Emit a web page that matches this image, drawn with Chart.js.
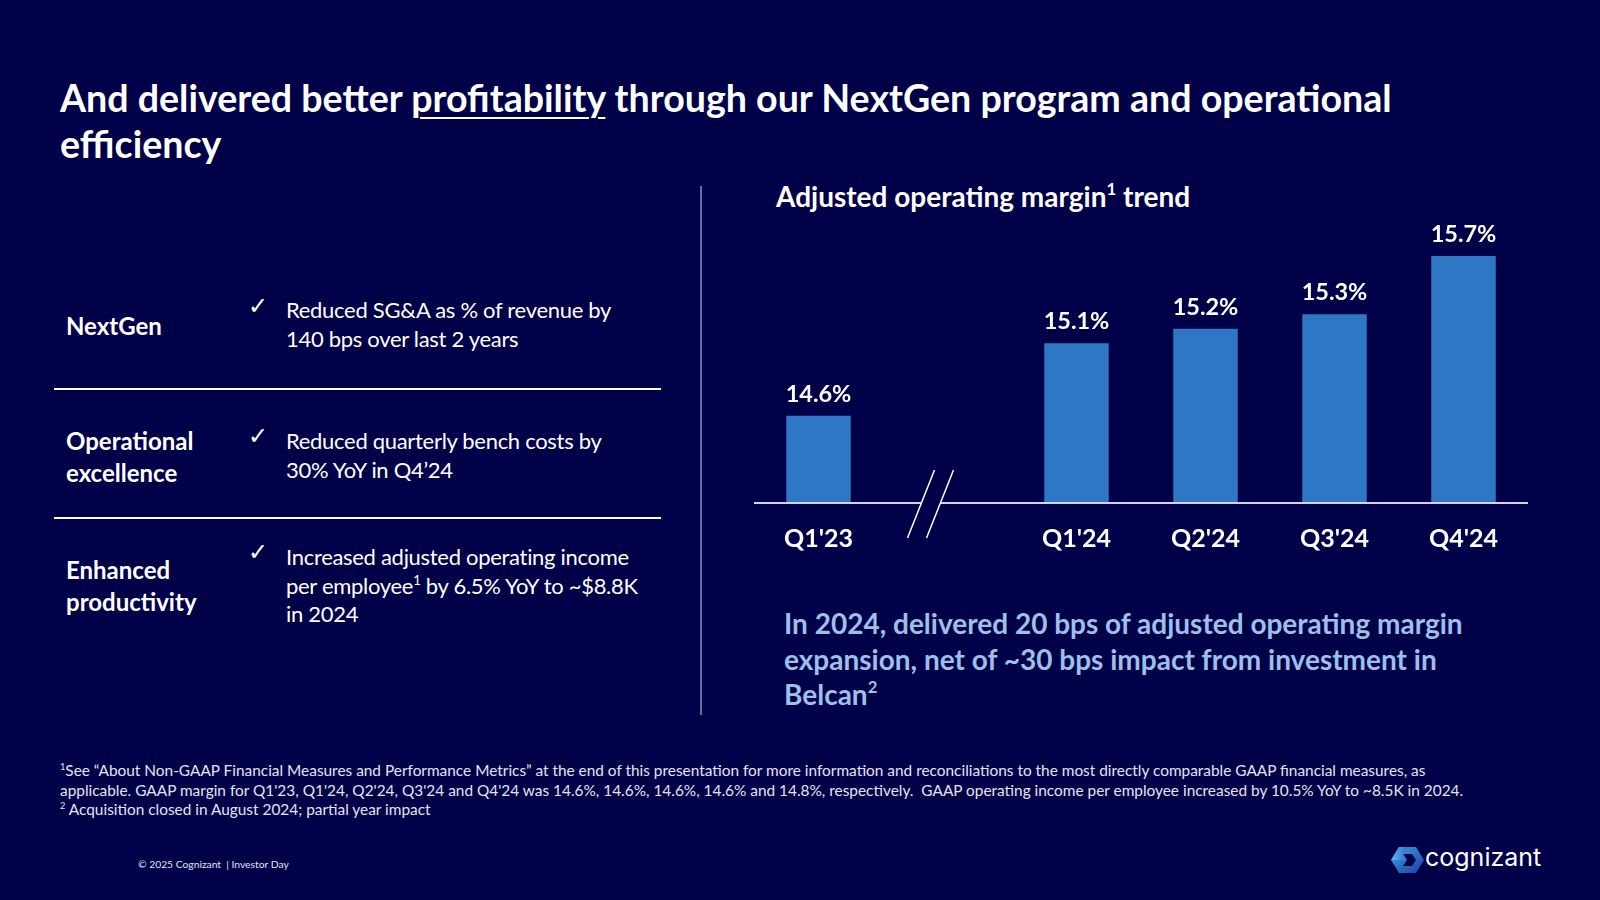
<!DOCTYPE html>
<html>
<head>
<meta charset="utf-8">
<script src="https://cdn.jsdelivr.net/npm/chart.js@4.4.1/dist/chart.umd.min.js"></script>
<style>
  html, body { margin: 0; padding: 0; }
  body {
    width: 1600px; height: 900px; overflow: hidden;
    background: #000048; color: #ffffff;
    font-family: Lato, "Noto Sans", sans-serif;
    position: relative;
  }
  .abs { position: absolute; white-space: nowrap; }
  .title { left: 60px; top: 75px; font-size: 37.6px; line-height: 46px; font-weight: 700; }
  .title u { text-decoration-thickness: 2px; text-underline-offset: 5px; }
  .lbl { left: 66px; font-size: 24px; line-height: 32px; font-weight: 700; }
  .body { left: 286px; font-size: 22px; line-height: 28.5px; letter-spacing: -0.3px; }
  .chk { left: 248px; font-size: 24px; line-height: 28px; font-family: "DejaVu Sans", sans-serif; }
  .sep { position: absolute; left: 54px; width: 607px; height: 2px; background: #ffffff; }
  .vdiv { position: absolute; left: 700px; top: 186px; width: 2px; height: 529px; background: #6a6aa6; }
  sup { font-size: 60%; line-height: 0; vertical-align: 0.7em; }
  .ctitle { left: 776px; top: 179px; font-size: 28px; line-height: 34px; font-weight: 700; }
  .note { left: 784px; top: 606px; font-size: 28px; line-height: 35.5px; font-weight: 700; color: #9dc0ea; }
  .foot { left: 60px; top: 761px; font-size: 15.4px; line-height: 19.5px; color: #e4e4f0; }
  .copy { left: 138px; top: 858px; font-size: 10.3px; line-height: 12px; color: #e4e4f0; }
  .logo-txt { left: 1425px; top: 842px; font-family: Inter, Lato, sans-serif; font-size: 25px; line-height: 30px; }
  #chartBox { position: absolute; left: 740px; top: 200px; width: 820px; height: 379px; }
</style>
</head>
<body>

<div class="abs title">And delivered better <u>profitability</u> through our NextGen program and operational<br>efficiency</div>

<div class="abs lbl" style="top:310px">NextGen</div>
<div class="abs chk" style="top:292px">✓</div>
<div class="abs body" style="top:296px">Reduced SG&amp;A as % of revenue by<br>140 bps over last 2 years</div>
<div class="sep" style="top:388px"></div>

<div class="abs lbl" style="top:425px">Operational<br>excellence</div>
<div class="abs chk" style="top:422px">✓</div>
<div class="abs body" style="top:427px">Reduced quarterly bench costs by<br>30% YoY in Q4’24</div>
<div class="sep" style="top:517px"></div>

<div class="abs lbl" style="top:554px">Enhanced<br>productivity</div>
<div class="abs chk" style="top:538px">✓</div>
<div class="abs body" style="top:543px">Increased adjusted operating income<br>per employee<sup>1</sup> by 6.5% YoY to ~$8.8K<br>in 2024</div>

<div class="vdiv"></div>

<div class="abs ctitle">Adjusted operating margin<sup>1</sup> trend</div>

<div id="chartBox"><canvas id="chart"></canvas></div>

<div class="abs note">In 2024, delivered 20 bps of adjusted operating margin<br>expansion, net of ~30 bps impact from investment in<br>Belcan<sup>2</sup></div>

<div class="abs foot"><sup>1</sup>See “About Non-GAAP Financial Measures and Performance Metrics” at the end of this presentation for more information and reconciliations to the most directly comparable GAAP financial measures, as<br>applicable. GAAP margin for Q1'23, Q1'24, Q2'24, Q3'24 and Q4'24 was 14.6%, 14.6%, 14.6%, 14.6% and 14.8%, respectively.&nbsp; GAAP operating income per employee increased by 10.5% YoY to ~8.5K in 2024.<br><sup>2</sup> Acquisition closed in August 2024; partial year impact</div>

<div class="abs copy">© 2025 Cognizant&nbsp; | Investor Day</div>

<svg class="abs" style="left:1391px; top:846px" width="33" height="28" viewBox="0 0 33 28">
  <defs>
    <linearGradient id="g1" x1="0" y1="0" x2="1" y2="1">
      <stop offset="0" stop-color="#3fa2e8"/>
      <stop offset="1" stop-color="#1c3f9e"/>
    </linearGradient>
    <linearGradient id="g2" x1="0" y1="0" x2="1" y2="0">
      <stop offset="0" stop-color="#5fc3f0"/>
      <stop offset="1" stop-color="#2b6ccc"/>
    </linearGradient>
  </defs>
  <polygon points="8,1 25,1 33,14 25,27 8,27 0,14" fill="url(#g1)"/>
  <polygon points="12,8 21,8 25,14 21,20 12,20 16,14" fill="#000048"/>
  <polygon points="8,1 17,1 12,8 16,14 0,14" fill="url(#g2)" opacity="0.85"/>
</svg>
<div class="abs logo-txt">cognizant</div>

<script>
// values
const categories = ["Q1'23", "", "Q1'24", "Q2'24", "Q3'24", "Q4'24"];
const margins = [14.6, null, 15.1, 15.2, 15.3, 15.7];
const valueLabels = ["14.6%", "", "15.1%", "15.2%", "15.3%", "15.7%"];
const breakIndex = 1;

const barColor = "#2e77c5";
const axisColor = "#d2d2ee";

Chart.defaults.font.family = "Lato, 'Noto Sans', sans-serif";

/* Axis line with the "//" break and the % labels over each bar */
const decorations = {
  id: "decorations",
  afterDatasetsDraw(chart) {
    const ctx = chart.ctx;
    const area = chart.chartArea;
    const xs = chart.scales.x;
    const y0 = area.bottom;
    const bx = xs.getPixelForValue(breakIndex);

    ctx.save();
    ctx.strokeStyle = axisColor;
    ctx.lineWidth = 2;
    ctx.beginPath();
    ctx.moveTo(area.left, y0);
    ctx.lineTo(bx - 26, y0);
    ctx.moveTo(bx - 7, y0);
    ctx.lineTo(area.right, y0);
    ctx.stroke();

    ctx.strokeStyle = "#ffffff";
    ctx.lineWidth = 1.5;
    ctx.beginPath();
    ctx.moveTo(bx - 40, y0 + 35);
    ctx.lineTo(bx - 13, y0 - 33);
    ctx.moveTo(bx - 21, y0 + 35);
    ctx.lineTo(bx + 6, y0 - 33);
    ctx.stroke();

    /* value labels */
    ctx.fillStyle = "#ffffff";
    ctx.font = "700 23.5px Lato, 'Noto Sans', sans-serif";
    ctx.textAlign = "center";
    ctx.textBaseline = "alphabetic";
    chart.getDatasetMeta(0).data.forEach((bar, i) => {
      if (margins[i] === null) return;
      ctx.fillText(valueLabels[i], bar.x, bar.y - 14);
    });
    ctx.restore();
  }
};

new Chart(document.getElementById("chart"), {
  type: "bar",
  data: {
    labels: categories,
    datasets: [{
      data: margins,
      backgroundColor: barColor,
      borderWidth: 0,
      barPercentage: 0.5,
      categoryPercentage: 1.0
    }]
  },
  options: {
    responsive: true,
    maintainAspectRatio: false,
    animation: false,
    layout: { padding: { left: 14, right: 32, top: 27, bottom: 4 } },
    plugins: {
      legend: { display: false },
      tooltip: { enabled: false }
    },
    scales: {
      x: {
        grid: { display: false, drawTicks: false },
        border: { display: false },
        ticks: {
          color: "#ffffff",
          padding: 21,
          font: { size: 25, weight: "700" }
        }
      },
      y: {
        display: false,
        min: 14,
        max: 15.9
      }
    }
  },
  plugins: [decorations]
});
</script>
</body>
</html>
